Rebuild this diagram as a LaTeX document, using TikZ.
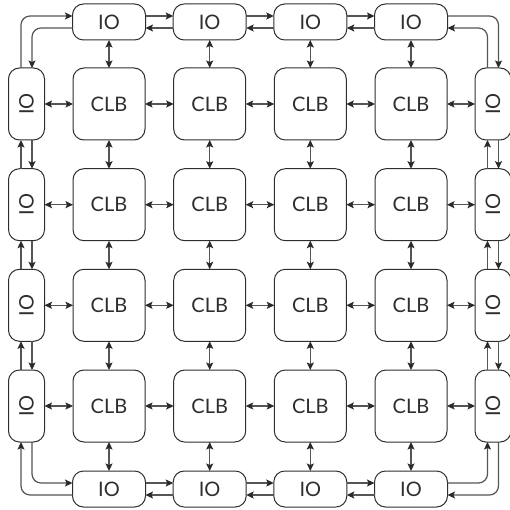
\documentclass[tikz,border=0pt]{standalone}
\usepackage{fontspec}
\setmainfont{Lato}
\usetikzlibrary{arrows.meta}
\definecolor{boxc}{HTML}{2E2E2E}
\definecolor{linec}{HTML}{555555}
\definecolor{headc}{HTML}{2A2A2A}
\tikzset{
  clb/.style={draw=boxc, line width=1pt, rounded corners=11pt, minimum width=72pt, minimum height=72pt, inner sep=0pt, outer sep=0pt, font=\fontsize{20}{22}\selectfont, text=boxc},
  hio/.style={draw=boxc, line width=1pt, rounded corners=11pt, minimum width=73pt, minimum height=36pt, inner sep=0pt, outer sep=0pt, font=\fontsize{20}{22}\selectfont, text=boxc},
  vio/.style={draw=boxc, line width=1pt, rounded corners=11pt, minimum width=36pt, minimum height=72pt, inner sep=0pt, outer sep=0pt, font=\fontsize{20}{22}\selectfont, text=boxc},
  tip/.tip={Stealth[length=7.5pt,width=7pt,inset=1.5pt,color=headc]},
  conn/.style={draw=linec, line width=1.2pt},
  dar/.style={conn, tip-tip},
  sar/.style={conn, -tip, rounded corners=9pt},
}
\begin{document}
\begin{tikzpicture}[x=1pt,y=-1pt]
\useasboundingbox (0,0) rectangle (509,510);
% CLBs
\foreach \i/\x in {1/109,2/209.7,3/310.3,4/411}{
  \foreach \j/\y in {1/104,2/204.7,3/305.3,4/406}{
    \node[clb] (c\i\j) at (\x,\y) {CLB};
  }
}
% IO blocks
\foreach \i/\x in {1/109,2/209.7,3/310.3,4/411}{
  \node[hio] (t\i) at (\x,22) {IO};
  \node[hio] (b\i) at (\x,489) {IO};
}
\foreach \j/\y in {1/104,2/204.7,3/305.3,4/406}{
  \node[vio] (l\j) at (26.5,\y) {\rotatebox{90}{IO}};
  \node[vio] (r\j) at (493,\y) {\rotatebox{90}{IO}};
}
% CLB-CLB and IO-CLB links
\foreach \j in {1,2,3,4}{
  \draw[dar] (l\j.east) -- (c1\j.west);
  \draw[dar] (c4\j.east) -- (r\j.west);
  \draw[dar] (t\j.south) -- (c\j1.north);
  \draw[dar] (c\j4.south) -- (b\j.north);
}
\foreach \a/\b in {1/2,2/3,3/4}{
  \foreach \k in {1,2,3,4}{
    \draw[dar] (c\a\k.east) -- (c\b\k.west);
    \draw[dar] (c\k\a.south) -- (c\k\b.north);
  }
  % IO ring links
  \draw[sar] ([yshift=6pt]t\a.east) -- ([yshift=6pt]t\b.west);
  \draw[sar] ([yshift=-6pt]t\b.west) -- ([yshift=-6pt]t\a.east);
  \draw[sar] ([yshift=6pt]b\a.east) -- ([yshift=6pt]b\b.west);
  \draw[sar] ([yshift=-6pt]b\b.west) -- ([yshift=-6pt]b\a.east);
  \draw[sar] ([xshift=-5.5pt]l\b.north) -- ([xshift=-5.5pt]l\a.south);
  \draw[sar] ([xshift=5.5pt]l\a.south) -- ([xshift=5.5pt]l\b.north);
  \draw[sar] ([xshift=5.5pt]r\a.south) -- ([xshift=5.5pt]r\b.north);
  \draw[sar] ([xshift=-5.5pt]r\b.north) -- ([xshift=-5.5pt]r\a.south);
}
% corners
\draw[sar] ([xshift=-5.5pt]l1.north) |- ([yshift=6pt]t1.west);
\draw[sar] ([yshift=-6pt]t1.west) -| ([xshift=5.5pt]l1.north);
\draw[sar] ([yshift=6pt]t4.east) -| ([xshift=5.5pt]r1.north);
\draw[sar] ([xshift=-5.5pt]r1.north) |- ([yshift=-6pt]t4.east);
\draw[sar] ([yshift=6pt]b4.east) -| ([xshift=-5.5pt]r4.south);
\draw[sar] ([xshift=5.5pt]r4.south) |- ([yshift=-6pt]b4.east);
\draw[sar] ([yshift=-6pt]b1.west) -| ([xshift=-5.5pt]l4.south);
\draw[sar] ([xshift=5.5pt]l4.south) |- ([yshift=6pt]b1.west);
\end{tikzpicture}
\end{document}
